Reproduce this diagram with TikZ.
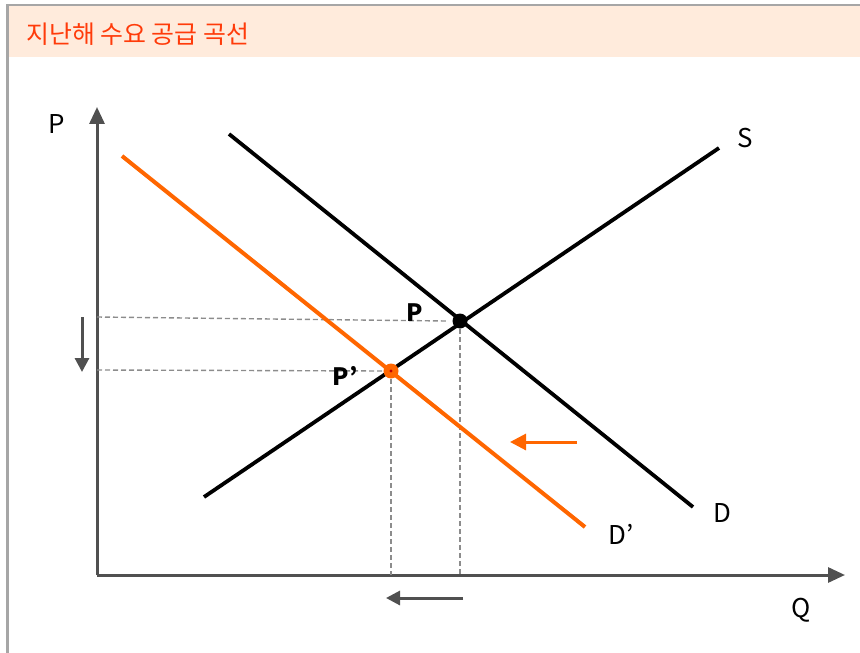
\documentclass[tikz,border=0pt]{standalone}
\usepackage{fontspec}
\setmainfont{Noto Sans CJK KR}
\usetikzlibrary{arrows.meta}
\definecolor{frameg}{HTML}{A6A6A6}
\definecolor{headfill}{HTML}{FFEBDC}
\definecolor{titlered}{HTML}{FF3B0A}
\definecolor{org}{HTML}{FF6600}
\definecolor{axisg}{HTML}{505050}
\definecolor{dashg}{HTML}{8C8C8C}
\definecolor{dotred}{HTML}{C00000}
\tikzset{
  axisline/.style={draw=axisg, line width=3bp, -{Triangle[length=17bp,width=15bp]}},
  curve/.style={draw=black, line width=3.8bp},
  ocurve/.style={draw=org, line width=4bp},
  guide/.style={draw=dashg, line width=1.4bp, dash pattern=on 5bp off 3bp},
  shiftarrow/.style={draw=axisg, line width=3bp, -{Triangle[length=14bp,width=14bp]}},
  oshiftarrow/.style={draw=org, line width=3bp, -{Triangle[length=16bp,width=16bp]}},
  lab/.style={font=\fontsize{26}{26}\selectfont, text=black, inner sep=0pt},
  blab/.style={font=\fontsize{24}{24}\selectfont\bfseries, text=black, inner sep=0pt}
}
\begin{document}
\begin{tikzpicture}[x=1bp,y=-1bp]
\useasboundingbox (0,0) rectangle (860,653);
% frame and header
\fill[headfill] (8,6) rectangle (860,57);
\draw[frameg, line width=2.2bp] (7.5,653) -- (7.5,5) -- (860,5);
\node[anchor=base west, text=titlered, font=\fontsize{25}{25}\selectfont, inner sep=0pt] (title) at (26,44) {지난해 수요 공급 곡선};
% axes
\coordinate (O) at (97,575);
\coordinate (ytip) at (97,107);
\coordinate (xtip) at (845,575);
\draw[axisline] (O) -- (ytip);
\draw[axisline] (O) -- (xtip);
\node[lab] (Plab) at (57,124) {P};
\node[lab] (Qlab) at (801,610) {Q};
% points
\coordinate (E) at (460,321);
\coordinate (E2) at (391,371);
\coordinate (Ey) at (97,317);
\coordinate (E2y) at (97,370);
\coordinate (Ex) at (460,575);
\coordinate (E2x) at (391,575);
% guides
\draw[guide] (Ey) -- ([xshift=-14bp]E);
\draw[guide] (E2y) -- ([xshift=-8bp]E2);
\draw[guide] (E) -- (Ex);
\draw[guide] (E2) -- (E2x);
% curves
\coordinate (S1) at (204,497);
\coordinate (S2) at (719,148);
\coordinate (D1) at (229,134);
\coordinate (D2) at (693,507);
\coordinate (Dp1) at (122,156);
\coordinate (Dp2) at (585,527);
\draw[curve] (S1) -- (S2);
\draw[curve] (D1) -- (D2);
\draw[ocurve] (Dp1) -- (Dp2);
\node[lab] (Slab) at (745,138) {S};
\node[lab] (Dlab) at (722,513) {D};
\node[lab] (Dplab) at (621,534) {D’};
% equilibrium dots
\fill[black] (E) circle (7.5bp);
\fill[org] (E2) circle (7.5bp);
\fill[dotred] (E2) circle (1.6bp);
\node[blab] (Pe) at (415,313) {P};
\node[blab] (Pe2) at (345,376) {P’};
% shift arrows
\coordinate (a1s) at (82,317);
\coordinate (a1e) at (82,372);
\draw[shiftarrow] (a1s) -- (a1e);
\coordinate (a2s) at (463,598);
\coordinate (a2e) at (386,598);
\draw[shiftarrow] (a2s) -- (a2e);
\coordinate (a3s) at (577,442);
\coordinate (a3e) at (510,442);
\draw[oshiftarrow] (a3s) -- (a3e);
\end{tikzpicture}
\end{document}
